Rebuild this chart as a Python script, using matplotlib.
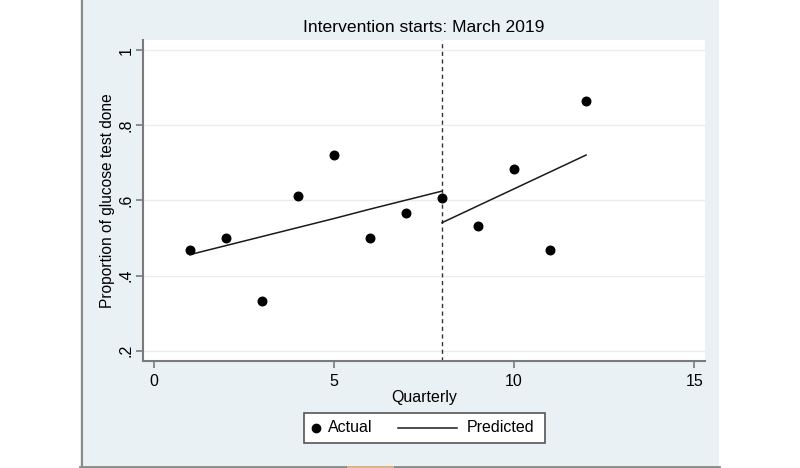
import matplotlib
matplotlib.use("Agg")
import matplotlib.pyplot as plt
from matplotlib.lines import Line2D
from matplotlib.patches import Rectangle

plt.rcParams['font.family'] = ['Liberation Sans', 'DejaVu Sans']

quarters = [1, 2, 3, 4, 5, 6, 7, 8, 9, 10, 11, 12]
actual = [0.468, 0.500, 0.333, 0.611, 0.720, 0.500, 0.567, 0.606, 0.532, 0.683, 0.468, 0.864]
pre_x = [1, 2, 3, 4, 5, 6, 7, 8]
pre_pred = [0.456, 0.480, 0.504, 0.528, 0.552, 0.577, 0.601, 0.625]
post_x = [8, 9, 10, 11, 12]
post_pred = [0.541, 0.586, 0.631, 0.676, 0.721]
intervention_q = 8
xticks = [0, 5, 10, 15]
yticks = [0.2, 0.4, 0.6, 0.8, 1.0]
ytick_labels = [".2", ".4", ".6", ".8", "1"]
legend_labels = ['Actual', 'Predicted']

W, H = 800, 468
fig = plt.figure(figsize=(W / 100, H / 100), dpi=100, facecolor='white')


def fx(px):
    return px / W


def fy(py):
    return (H - py) / H


panel = '#E9F1F4'
fig.add_artist(Rectangle((fx(80), 0), fx(719) - fx(80), 1, transform=fig.transFigure,
                         facecolor=panel, edgecolor='none', zorder=-10))
fig.add_artist(Line2D([fx(81.5), fx(81.5)], [fy(466), 1], transform=fig.transFigure,
                      color='#8a8a8a', lw=1.5, zorder=-5))
fig.add_artist(Line2D([fx(80), fx(719)], [fy(466.5), fy(466.5)], transform=fig.transFigure,
                      color='#8a8a8a', lw=2, zorder=-5))
fig.add_artist(Line2D([fx(348), fx(392)], [fy(466.5), fy(466.5)], transform=fig.transFigure,
                      color='#e0b48c', lw=2, zorder=-4))

ax = fig.add_axes([fx(143), fy(361), fx(705) - fx(143), fy(40) - fy(361)], zorder=1)
ax.set_facecolor('white')
ax.set_xlim(-0.3, 15.3)
ax.set_ylim(0.173, 1.027)

for yv in yticks:
    ax.axhline(yv, color='#E6EEF1', lw=1, zorder=0)

ax.axvline(intervention_q, color='#333333', lw=1, ls=(0, (3, 2.5)), zorder=1)

ax.scatter(quarters, actual, s=38, color='black', zorder=3, label=legend_labels[0])
ax.plot(pre_x, pre_pred, color='#1a1a1a', lw=1.1, zorder=2, label=legend_labels[1])
ax.plot(post_x, post_pred, color='#1a1a1a', lw=1.1, zorder=2)

for s in ['top', 'right']:
    ax.spines[s].set_visible(False)
for s in ['left', 'bottom']:
    ax.spines[s].set_color('#7a7a7a')
    ax.spines[s].set_linewidth(1.5)

ax.set_xticks(xticks)
ax.set_xticklabels([str(v) for v in xticks], fontsize=11.5)
ax.set_yticks(yticks)
ax.set_yticklabels(ytick_labels, fontsize=11.5, rotation=90, va='center')
ax.tick_params(axis='both', colors='#7a7a7a', labelcolor='black', length=5, width=1.2, direction='out')
ax.tick_params(axis='x', pad=4)
ax.tick_params(axis='y', pad=1.5)

ax.set_xlabel('Quarterly', fontsize=11.5, labelpad=1)
ax.set_ylabel('Proportion of glucose test done', fontsize=11.2, labelpad=3)
ax.set_title('Intervention starts: March 2019', fontsize=12.6, pad=6)

# legend box (Stata style)
fig.add_artist(Rectangle((fx(304), fy(443)), fx(545) - fx(304), fy(413) - fy(443),
                         transform=fig.transFigure, facecolor='white', edgecolor='#555555',
                         lw=1.2, zorder=5))
fig.add_artist(Line2D([fx(316)], [fy(428)], marker='o', ls='none', color='black',
                      markersize=6, transform=fig.transFigure, zorder=6))
fig.text(fx(328), fy(428), legend_labels[0], fontsize=11.5, va='center', ha='left', zorder=6)
fig.add_artist(Line2D([fx(398), fx(457)], [fy(428), fy(428)], color='#1a1a1a', lw=1.1,
                      transform=fig.transFigure, zorder=6))
fig.text(fx(467), fy(428), legend_labels[1], fontsize=11.5, va='center', ha='left', zorder=6)

fig.savefig('out.png', dpi=100, facecolor='white')
